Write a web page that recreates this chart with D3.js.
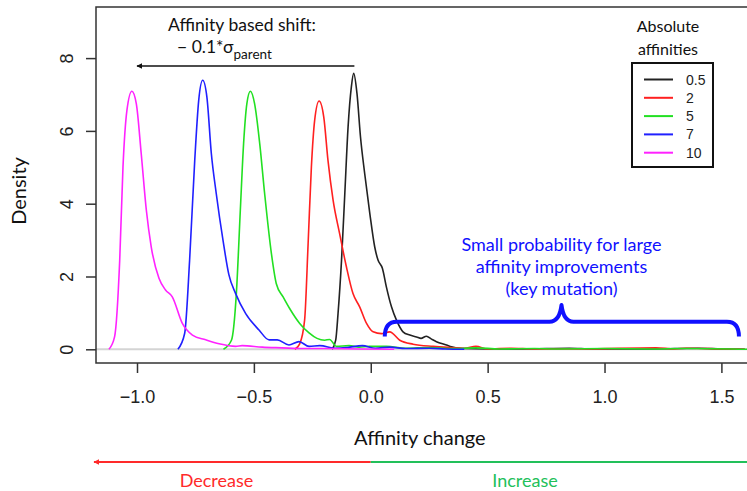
<!DOCTYPE html>
<html>
<head>
<meta charset="utf-8">
<script src="https://cdn.jsdelivr.net/npm/d3@7"></script>
<style>
  body { margin: 0; background: #fff; }
  svg { display: block; }
</style>
</head>
<body>
<div id="chart"></div>
<script>
const width = 747;
const height = 491;

// density curves: [affinity change, density]
const dens05 = [[-0.165,0],[-0.150,0.25],[-0.140,0.98],[-0.125,2.45],[-0.111,4.28],[-0.097,6.11],[-0.083,7.21],[-0.073,7.58],
  [-0.059,7.03],[-0.044,5.84],[-0.026,4.83],[-0.004,3.73],[0.017,2.81],[0.031,2.45],[0.050,2.22],[0.067,1.71],[0.089,1.16],
  [0.110,0.80],[0.138,0.48],[0.167,0.39],[0.196,0.34],[0.215,0.30],[0.238,0.36],[0.260,0.28],[0.281,0.21],[0.324,0.12],
  [0.345,0.07],[0.39,0.02],[0.5,0.01],[0.65,0.01],[0.85,0.03],[0.95,0.01],[1.2,0.01],[1.4,0.03],[1.5,0.01],[1.6,0]];
const dens2 = [[-0.325,0],[-0.304,0.15],[-0.283,0.80],[-0.268,2.90],[-0.254,5.01],[-0.240,6.29],[-0.221,6.82],[-0.201,6.38],
  [-0.183,5.19],[-0.161,4.09],[-0.133,3.17],[-0.104,2.26],[-0.076,1.53],[-0.047,1.16],[-0.018,0.71],[0.010,0.48],[0.046,0.43],
  [0.081,0.48],[0.124,0.25],[0.181,0.14],[0.267,0.08],[0.338,0.05],[0.40,0.03],[0.45,0.08],[0.50,0.01],[0.60,0.03],[0.70,0.01],
  [0.9,0.01],[1.22,0.04],[1.3,0.01],[1.35,0.03],[1.5,0.01],[1.6,0]];
const dens5 = [[-0.630,0],[-0.596,0.25],[-0.575,1.53],[-0.558,3.82],[-0.544,5.65],[-0.530,6.75],[-0.515,7.09],[-0.497,6.75],
  [-0.475,5.65],[-0.454,4.28],[-0.425,2.63],[-0.404,1.80],[-0.375,1.44],[-0.347,1.12],[-0.304,0.71],[-0.264,0.45],[-0.230,0.30],
  [-0.197,0.25],[-0.176,0.27],[-0.147,0.08],[-0.093,0.10],[-0.05,0.06],[-0.007,0.08],[0.067,0.08],[0.15,0.03],[0.25,0.05],
  [0.35,0.02],[0.45,0.04],[0.55,0.01],[0.7,0.02],[0.8,0.01],[1.0,0.02],[1.2,0.01],[1.35,0.02],[1.55,0.01],[1.61,0]];
const dens7 = [[-0.825,0],[-0.796,0.44],[-0.775,2.44],[-0.753,5.19],[-0.736,6.84],[-0.719,7.39],[-0.701,6.93],[-0.682,5.38],
  [-0.661,4.28],[-0.632,2.99],[-0.607,2.05],[-0.578,1.53],[-0.535,0.98],[-0.478,0.53],[-0.435,0.26],[-0.400,0.26],[-0.350,0.12],
  [-0.307,0.21],[-0.264,0.08],[-0.218,0.10],[-0.150,0.03],[-0.100,0.05],[-0.036,0.10],[0.020,0.03],[0.08,0.06],[0.15,0.02],
  [0.25,0.03],[0.32,0.01],[0.40,0]];
const dens10 = [[-1.120,0],[-1.096,0.34],[-1.074,2.44],[-1.060,5.00],[-1.043,6.57],[-1.022,7.09],[-1.003,6.75],[-0.982,5.38],
  [-0.960,3.82],[-0.939,2.81],[-0.906,1.95],[-0.878,1.63],[-0.849,1.44],[-0.806,0.71],[-0.763,0.39],[-0.706,0.26],[-0.649,0.15],
  [-0.578,0.08],[-0.550,0.10],[-0.464,0.06],[-0.380,0.04],[-0.290,0.02],[-0.200,0.02],[-0.05,0.01],[0.10,0]];

const series = [dens05, dens2, dens5, dens7, dens10];
const legendLabels = ["0.5", "2", "5", "7", "10"];
const colors = ["#222222", "#ff2020", "#22e022", "#2020ff", "#ff22ff"];
const xTicks = [-1.0, -0.5, 0.0, 0.5, 1.0, 1.5];
const yTicks = [0, 2, 4, 6, 8];

const svg = d3.select("#chart").append("svg")
  .attr("width", width)
  .attr("height", height);

const box = {left: 96, top: 7, right: 760, bottom: 363};

const x = d3.scaleLinear().domain([-1, 1.5]).range([137, 721.4]);
const y = d3.scaleLinear().domain([0, 8]).range([349.3, 58.1]);

svg.append("clipPath").attr("id", "clip")
  .append("rect")
  .attr("x", box.left).attr("y", box.top)
  .attr("width", box.right - box.left).attr("height", box.bottom - box.top);

// zero line
svg.append("line")
  .attr("x1", box.left).attr("x2", width)
  .attr("y1", y(0)).attr("y2", y(0))
  .attr("stroke", "#d4d4d4").attr("stroke-width", 2);

const line = d3.line()
  .x(d => x(d[0]))
  .y(d => y(d[1]))
  .curve(d3.curveMonotoneX);

svg.append("g").attr("clip-path", "url(#clip)")
  .selectAll("path")
  .data(series)
  .join("path")
  .attr("d", line)
  .attr("fill", "none")
  .attr("stroke", (d, i) => colors[i])
  .attr("stroke-width", 1.6);

// box
svg.append("rect")
  .attr("x", box.left).attr("y", box.top)
  .attr("width", box.right - box.left).attr("height", box.bottom - box.top)
  .attr("fill", "none").attr("stroke", "#333").attr("stroke-width", 1.5);

// axes
const xAxis = svg.append("g")
  .attr("transform", "translate(0," + box.bottom + ")")
  .call(d3.axisBottom(x).tickValues(xTicks).tickSize(10).tickPadding(17).tickFormat(d3.format(".1f")));
xAxis.select(".domain").remove();
xAxis.selectAll("line").attr("stroke", "#333").attr("stroke-width", 1.5);
xAxis.selectAll("text").style("font-family", "Liberation Sans, Arial, sans-serif").style("font-size", "18px").attr("fill", "#222");

const yAxis = svg.append("g")
  .attr("transform", "translate(" + box.left + ",0)")
  .call(d3.axisLeft(y).tickValues(yTicks).tickSize(10));
yAxis.select(".domain").remove();
yAxis.selectAll("line").attr("stroke", "#333").attr("stroke-width", 1.5);
yAxis.selectAll("text")
  .attr("x", 0).attr("dy", 0)
  .attr("text-anchor", "middle")
  .attr("transform", "translate(-23,0) rotate(-90)")
  .style("font-family", "Liberation Sans, Arial, sans-serif").style("font-size", "18px").attr("fill", "#222");

const lato = "Lato, 'Open Sans', sans-serif";

svg.append("text")
  .attr("transform", "translate(26,191) rotate(-90)")
  .attr("text-anchor", "middle")
  .style("font-family", lato).style("font-size", "20px")
  .attr("fill", "#111")
  .text("Density");

svg.append("text")
  .attr("x", x(0.21)).attr("y", 445)
  .attr("text-anchor", "middle")
  .style("font-family", lato).style("font-size", "20px")
  .attr("fill", "#111")
  .text("Affinity change");

// shift annotation
svg.append("defs").selectAll("marker")
  .data([["arrBlack", "#111"], ["arrRed", "#ff2a2a"]])
  .join("marker")
  .attr("id", d => d[0])
  .attr("viewBox", "0 0 10 10")
  .attr("refX", 9).attr("refY", 5)
  .attr("markerWidth", 6).attr("markerHeight", 6)
  .attr("markerUnits", "userSpaceOnUse")
  .attr("orient", "auto")
  .append("path").attr("d", "M0,0 L10,5 L0,10 z").attr("fill", d => d[1]);

svg.append("text")
  .attr("x", 242).attr("y", 31)
  .attr("text-anchor", "middle")
  .style("font-family", lato).style("font-size", "17.5px")
  .attr("fill", "#111")
  .text("Affinity based shift:");

const sub = svg.append("text")
  .attr("x", 177).attr("y", 53)
  .style("font-family", lato).style("font-size", "17.5px")
  .attr("fill", "#111");
sub.append("tspan").text("\u2212 0.1*\u03c3");
sub.append("tspan").attr("dy", 6).style("font-size", "13.5px").text("parent");

svg.append("line")
  .attr("x1", x(-0.07)).attr("x2", x(-1.0))
  .attr("y1", 66).attr("y2", 66)
  .attr("stroke", "#111").attr("stroke-width", 1.5)
  .attr("marker-end", "url(#arrBlack)");

// legend
svg.append("text")
  .attr("x", 668).attr("y", 32)
  .attr("text-anchor", "middle")
  .style("font-family", lato).style("font-size", "16px")
  .attr("fill", "#111")
  .text("Absolute");
svg.append("text")
  .attr("x", 668).attr("y", 55)
  .attr("text-anchor", "middle")
  .style("font-family", lato).style("font-size", "16px")
  .attr("fill", "#111")
  .text("affinities");

const legend = svg.append("g").attr("transform", "translate(632,63)");
legend.append("rect")
  .attr("width", 81).attr("height", 104)
  .attr("fill", "#fff").attr("stroke", "#111").attr("stroke-width", 2);
const items = legend.selectAll("g.item")
  .data(legendLabels)
  .join("g")
  .attr("class", "item")
  .attr("transform", (d, i) => "translate(0," + (16.5 + i * 18.3) + ")");
items.append("line")
  .attr("x1", 12).attr("x2", 41)
  .attr("stroke", (d, i) => colors[i]).attr("stroke-width", 2);
items.append("text")
  .attr("x", 54).attr("dy", "0.36em")
  .style("font-family", "Liberation Sans, Arial, sans-serif").style("font-size", "14px")
  .attr("fill", "#222")
  .text(d => d);

// key mutation brace
const blue = "#1010ff";
const bx0 = x(0.06), bx1 = x(1.575), bxm = x(0.816);
const byEnd = y(0.35), byBar = y(0.76), byTip = y(1.22);
const brace = d3.path();
brace.moveTo(bx0, byEnd);
brace.quadraticCurveTo(bx0, byBar, bx0 + 12, byBar);
brace.lineTo(bxm - 12, byBar);
brace.quadraticCurveTo(bxm - 2, byBar, bxm, byTip);
brace.quadraticCurveTo(bxm + 2, byBar, bxm + 12, byBar);
brace.lineTo(bx1 - 12, byBar);
brace.quadraticCurveTo(bx1, byBar, bx1, byEnd);
svg.append("path")
  .attr("d", brace.toString())
  .attr("fill", "none").attr("stroke", blue).attr("stroke-width", 4)
  .attr("stroke-linejoin", "round");

const noteLines = ["Small probability for large", "affinity improvements", "(key mutation)"];
svg.append("g").selectAll("text")
  .data(noteLines)
  .join("text")
  .attr("x", bxm).attr("y", (d, i) => 251 + i * 22)
  .attr("text-anchor", "middle")
  .style("font-family", lato).style("font-size", "18px")
  .attr("fill", blue)
  .text(d => d);

// decrease / increase arrow under the axis
svg.append("line")
  .attr("x1", x(0)).attr("x2", box.left - 2)
  .attr("y1", 462).attr("y2", 462)
  .attr("stroke", "#ff2a2a").attr("stroke-width", 2)
  .attr("marker-end", "url(#arrRed)");
svg.append("line")
  .attr("x1", x(0)).attr("x2", width)
  .attr("y1", 462).attr("y2", 462)
  .attr("stroke", "#22c05a").attr("stroke-width", 2);

svg.append("text")
  .attr("x", x(-0.66)).attr("y", 487)
  .attr("text-anchor", "middle")
  .style("font-family", lato).style("font-size", "18px")
  .attr("fill", "#ff2a2a")
  .text("Decrease");
svg.append("text")
  .attr("x", x(0.66)).attr("y", 487)
  .attr("text-anchor", "middle")
  .style("font-family", lato).style("font-size", "18px")
  .attr("fill", "#22c05a")
  .text("Increase");
</script>
</body>
</html>
